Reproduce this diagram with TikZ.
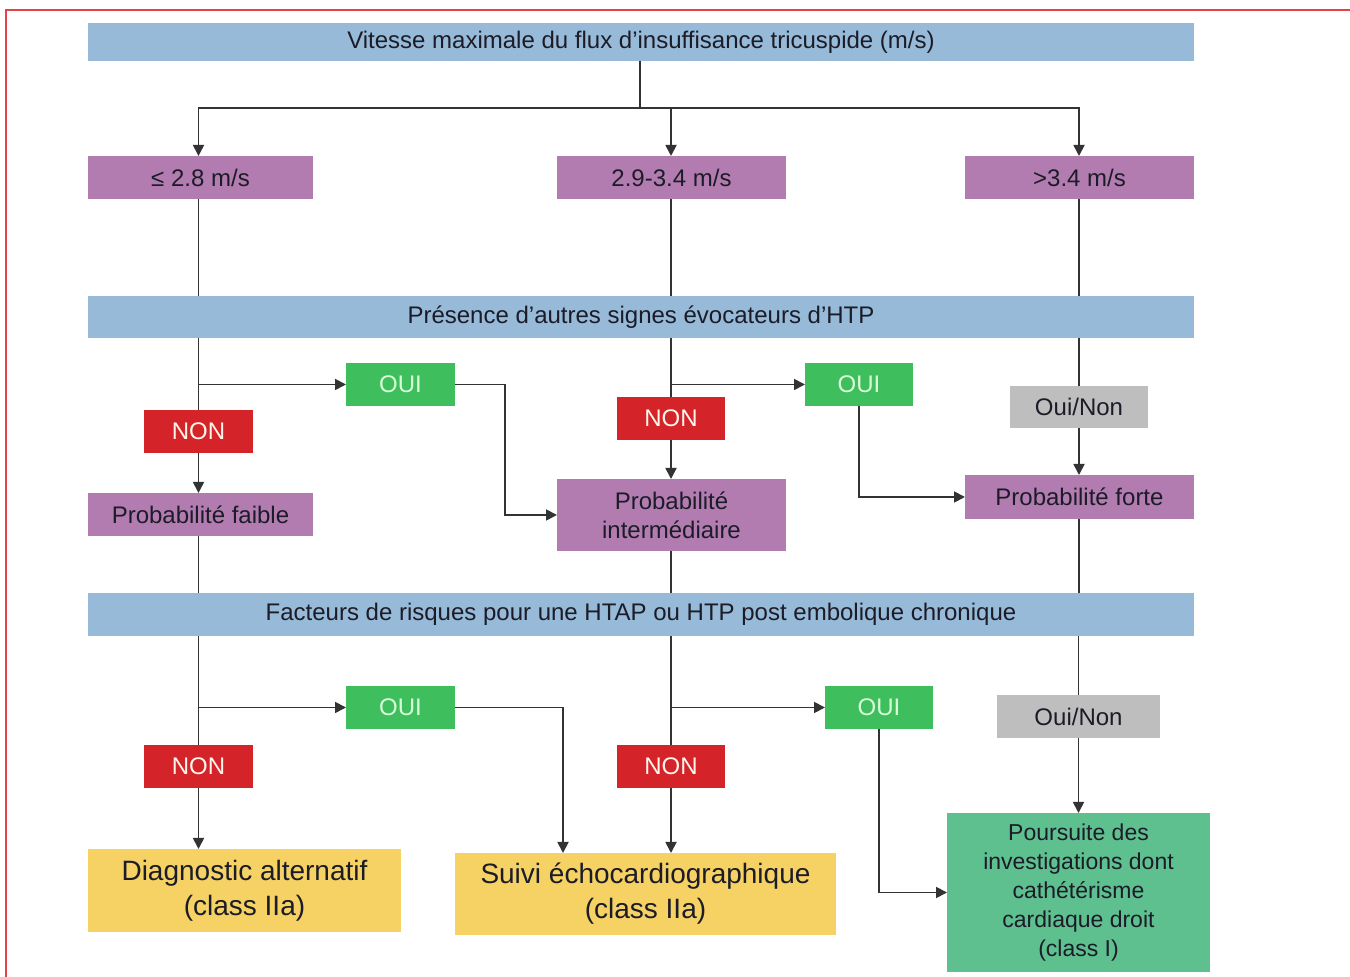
\documentclass[tikz,border=0pt]{standalone}
\usepackage{fontspec}
\setmainfont{Liberation Sans}
\usetikzlibrary{arrows.meta,calc}
\definecolor{barblue}{HTML}{96BAD8}
\definecolor{purp}{HTML}{B27CB0}
\definecolor{nonred}{HTML}{D5232A}
\definecolor{ouigreen}{HTML}{3FBE5E}
\definecolor{greybox}{HTML}{BEBEBE}
\definecolor{yel}{HTML}{F5D263}
\definecolor{teal}{HTML}{5EBF8F}
\definecolor{txt}{HTML}{1C1C28}
\definecolor{lnc}{HTML}{333333}
\definecolor{frame}{HTML}{E8404A}
\begin{document}
\begin{tikzpicture}[x=0.5pt,y=-0.5pt,
  sz/.style 2 args={minimum width={#1*0.5pt}, minimum height={#2*0.5pt}},
  base/.style={inner sep=0pt, outer sep=0pt, text=txt, font=\fontsize{12pt}{14.5pt}\selectfont, align=center},
  bar/.style={base, fill=barblue},
  pbox/.style={base, fill=purp},
  nonbox/.style={base, fill=nonred, text=white!92!orange},
  ouibox/.style={base, fill=ouigreen, text=white!85!green},
  gbox/.style={base, fill=greybox},
  ybox/.style={base, fill=yel, font=\fontsize{14pt}{17.5pt}\selectfont},
  tbox/.style={base, fill=teal, font=\fontsize{11.5pt}{14.5pt}\selectfont},
  ln/.style={draw=lnc, line width=0.9pt},
  arr/.style={ln, -{Triangle[length=5.5pt,width=5.5pt]}}
]
\useasboundingbox (0,0) rectangle (1350,977);
\draw[frame, line width=0.75pt] (1350,10) -- (6,10) -- (6,977);

% bars
\node[bar, sz={1106}{38}] (b1) at (641,42) {Vitesse maximale du flux d'insuffisance tricuspide (m/s)};
\node[bar, sz={1106}{42}] (b2) at (641,317) {Présence d'autres signes évocateurs d'HTP};
\node[bar, sz={1106}{43}] (b3) at (641,614.5) {Facteurs de risques pour une HTAP ou HTP post embolique chronique};

% first row
\node[pbox, sz={225}{43}] (p1) at (200.5,177.5) {≤ 2.8 m/s};
\node[pbox, sz={229}{43}] (p2) at (671.5,177.5) {2.9-3.4 m/s};
\node[pbox, sz={229}{43}] (p3) at (1079.5,177.5) {>3.4 m/s};

% middle section
\node[nonbox, sz={109}{43}] (non1) at (198.5,431.5) {NON};
\node[ouibox, sz={109}{43}] (oui1) at (400.5,384.5) {OUI};
\node[nonbox, sz={108}{43}] (non2) at (671,418.5) {NON};
\node[ouibox, sz={108}{43}] (oui2) at (859,384.5) {OUI};
\node[gbox, sz={138}{42}] (on1) at (1079,407) {Oui/Non};
\node[pbox, sz={225}{43}] (pf) at (200.5,514.5) {Probabilité faible};
\node[pbox, sz={229}{72}] (pi) at (671.5,515) {Probabilité\\intermédiaire};
\node[pbox, sz={229}{44}] (pfo) at (1079.5,497) {Probabilité forte};

% bottom section
\node[nonbox, sz={109}{43}] (non3) at (198.5,766.5) {NON};
\node[ouibox, sz={109}{43}] (oui3) at (400.5,707.5) {OUI};
\node[nonbox, sz={108}{43}] (non4) at (671,766.5) {NON};
\node[ouibox, sz={108}{43}] (oui4) at (879,707.5) {OUI};
\node[gbox, sz={163}{43}] (on2) at (1078.5,716.5) {Oui/Non};
\node[ybox, sz={313}{83}] (da) at (244.5,890.5) {Diagnostic alternatif\\(class IIa)};
\node[ybox, sz={381}{82}] (se) at (645.5,894) {Suivi échocardiographique\\(class IIa)};
\node[tbox, sz={263}{159}] (pc) at (1078.5,892.5) {Poursuite des\\investigations dont\\cathétérisme\\cardiaque droit\\(class I)};

% top connectors
\coordinate (t) at (640,108);
\draw[ln] (b1.south -| t) -- (t);
\draw[arr] (t) -| (non1 |- p1.north);
\draw[arr] (t) -| (non2 |- p2.north);
\draw[arr] (t) -| (on1 |- p3.north);
\draw[ln] (non1 |- p1.south) -- (non1 |- b2.north);
\draw[ln] (non2 |- p2.south) -- (non2 |- b2.north);
\draw[ln] (on1 |- p3.south) -- (on1 |- b2.north);

% middle connectors
\draw[ln] (b2.south -| non1) -- (non1.north);
\draw[arr] (non1 |- oui1) -- (oui1.west);
\draw[arr] (non1.south) -- (non1.south |- pf.north);
\draw[arr] (oui1.east) -- ++(50,0) |- (pi.west);
\draw[ln] (b2.south -| non2) -- (non2.north);
\draw[arr] (non2 |- oui2) -- (oui2.west);
\draw[arr] (non2.south) -- (non2.south |- pi.north);
\draw[arr] (oui2.south) |- (pfo.west);
\draw[ln] (b2.south -| on1) -- (on1.north);
\draw[arr] (on1.south) -- (on1.south |- pfo.north);
\draw[ln] (non1 |- pf.south) -- (non1 |- b3.north);
\draw[ln] (non2 |- pi.south) -- (non2 |- b3.north);
\draw[ln] (on1 |- pfo.south) -- (on1 |- b3.north);

% bottom connectors
\draw[ln] (b3.south -| non3) -- (non3.north);
\draw[arr] (non3 |- oui3) -- (oui3.west);
\draw[arr] (non3.south) -- (non3.south |- da.north);
\draw[arr] (oui3.east) -| ([xshift=-41.25pt]se.north);
\draw[ln] (b3.south -| non4) -- (non4.north);
\draw[arr] (non4 |- oui4) -- (oui4.west);
\draw[arr] (non4.south) -- (non4.south |- se.north);
\draw[arr] (oui4.south) |- (pc.west);
\draw[ln] (b3.south -| on2) -- (on2.north);
\draw[arr] (on2.south) -- (on2.south |- pc.north);
\end{tikzpicture}
\end{document}
